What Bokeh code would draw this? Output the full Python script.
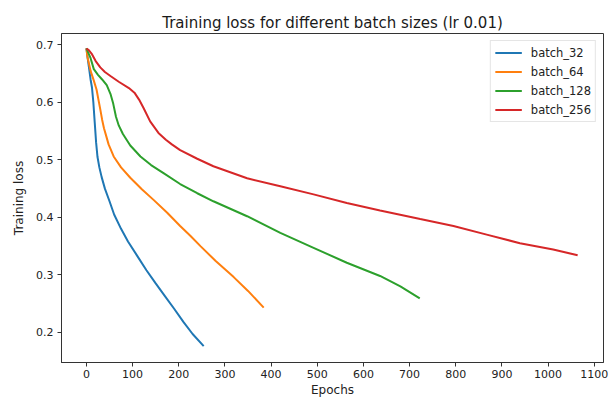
from bokeh.plotting import figure
from bokeh.models import Range1d, FixedTicker, Legend, LegendItem
from bokeh.embed import file_html
from bokeh.resources import INLINE

# ---- data ----
b32_x = [0, 3, 6, 9, 12, 15, 18, 21, 24, 28, 33, 40, 50, 60, 75, 90, 110, 130, 150, 170, 190, 210, 230, 254]
b32_y = [0.694, 0.675, 0.658, 0.640, 0.626, 0.600, 0.565, 0.530, 0.505, 0.487, 0.470, 0.450, 0.428, 0.405, 0.380, 0.358, 0.333, 0.308, 0.285, 0.263, 0.241, 0.218, 0.197, 0.176]

b64_x = [0, 2, 9, 16, 22, 26, 30, 34, 38, 42, 48, 59, 75, 95, 120, 146, 175, 203, 225, 247, 280, 319, 350, 384]
b64_y = [0.694, 0.680, 0.655, 0.638, 0.622, 0.605, 0.588, 0.570, 0.555, 0.544, 0.527, 0.506, 0.487, 0.469, 0.449, 0.430, 0.408, 0.385, 0.368, 0.350, 0.324, 0.296, 0.272, 0.243]

b128_x = [0, 9, 16, 25, 34, 44, 52, 58, 64, 70, 79, 95, 117, 140, 167, 203, 240, 275, 348, 420, 492, 564, 636, 680, 722]
b128_y = [0.694, 0.677, 0.658, 0.648, 0.640, 0.630, 0.615, 0.598, 0.575, 0.560, 0.545, 0.525, 0.506, 0.491, 0.477, 0.458, 0.442, 0.428, 0.402, 0.373, 0.347, 0.321, 0.298, 0.280, 0.259]

b256_x = [0, 5, 12, 20, 30, 40, 52, 70, 92, 104, 114, 124, 138, 156, 172, 185, 203, 240, 275, 348, 420, 492, 564, 636, 723, 795, 867, 939, 1011, 1064]
b256_y = [0.694, 0.691, 0.684, 0.672, 0.661, 0.653, 0.646, 0.636, 0.625, 0.617, 0.605, 0.590, 0.567, 0.547, 0.535, 0.527, 0.517, 0.502, 0.489, 0.468, 0.454, 0.440, 0.425, 0.412, 0.397, 0.385, 0.370, 0.355, 0.344, 0.334]

series_names = ["batch_32", "batch_64", "batch_128", "batch_256"]
series_x = [b32_x, b64_x, b128_x, b256_x]
series_y = [b32_y, b64_y, b128_y, b256_y]
colors = ["#1f77b4", "#ff7f0e", "#2ca02c", "#d62728"]

x_ticks = [0, 100, 200, 300, 400, 500, 600, 700, 800, 900, 1000, 1100]
y_ticks = [0.2, 0.3, 0.4, 0.5, 0.6, 0.7]

FONT = "DejaVu Sans"

p = figure(width=611, height=399, output_backend="svg", toolbar_location=None,
           x_range=Range1d(-54, 1120), y_range=Range1d(0.1474, 0.72),
           title="Training loss for different batch sizes (lr 0.01)",
           min_border_left=61, min_border_right=8, min_border_top=33, min_border_bottom=36)

p.title.text_font = FONT
p.title.text_font_size = "15px"
p.title.text_font_style = "normal"
p.title.align = "center"
p.title.text_color = "#1a1a1a"
p.title.standoff = 3

p.xgrid.visible = False
p.ygrid.visible = False
p.outline_line_color = "#333333"
p.outline_line_width = 1
p.outline_line_alpha = 1.0
p.background_fill_color = "white"
p.border_fill_color = "white"

for ax in (p.xaxis[0], p.yaxis[0]):
    ax.axis_line_color = "#333333"
    ax.major_tick_line_color = "#333333"
    ax.major_tick_in = 0
    ax.major_tick_out = 4
    ax.minor_tick_line_color = None
    ax.major_label_text_font = FONT
    ax.major_label_text_font_size = "11px"
    ax.major_label_text_color = "#222222"
    ax.axis_label_text_font = FONT
    ax.axis_label_text_font_size = "12px"
    ax.axis_label_text_font_style = "normal"
    ax.axis_label_text_color = "#222222"

p.xaxis[0].ticker = FixedTicker(ticks=x_ticks)
p.yaxis[0].ticker = FixedTicker(ticks=y_ticks)
p.xaxis[0].axis_label = "Epochs"
p.yaxis[0].axis_label = "Training loss"
p.xaxis[0].major_label_standoff = 3
p.xaxis[0].axis_label_standoff = 2
p.yaxis[0].major_label_standoff = 4
p.yaxis[0].axis_label_standoff = 7

items = []
for name, xs, ys, c in zip(series_names, series_x, series_y, colors):
    r = p.line(xs, ys, line_color=c, line_width=2)
    items.append(LegendItem(label=name, renderers=[r]))

legend = Legend(items=items, location="top_right")
legend.label_text_font = FONT
legend.label_text_font_size = "11.5px"
legend.label_text_color = "#222222"
legend.glyph_width = 27
legend.glyph_height = 15
legend.label_height = 15
legend.label_standoff = 9
legend.spacing = 4
legend.padding = 4
legend.margin = 7
legend.border_line_color = "#cccccc"
legend.border_line_width = 1
legend.background_fill_alpha = 0.8
p.add_layout(legend, "center")

open("out.html", "w").write(file_html(p, INLINE))
